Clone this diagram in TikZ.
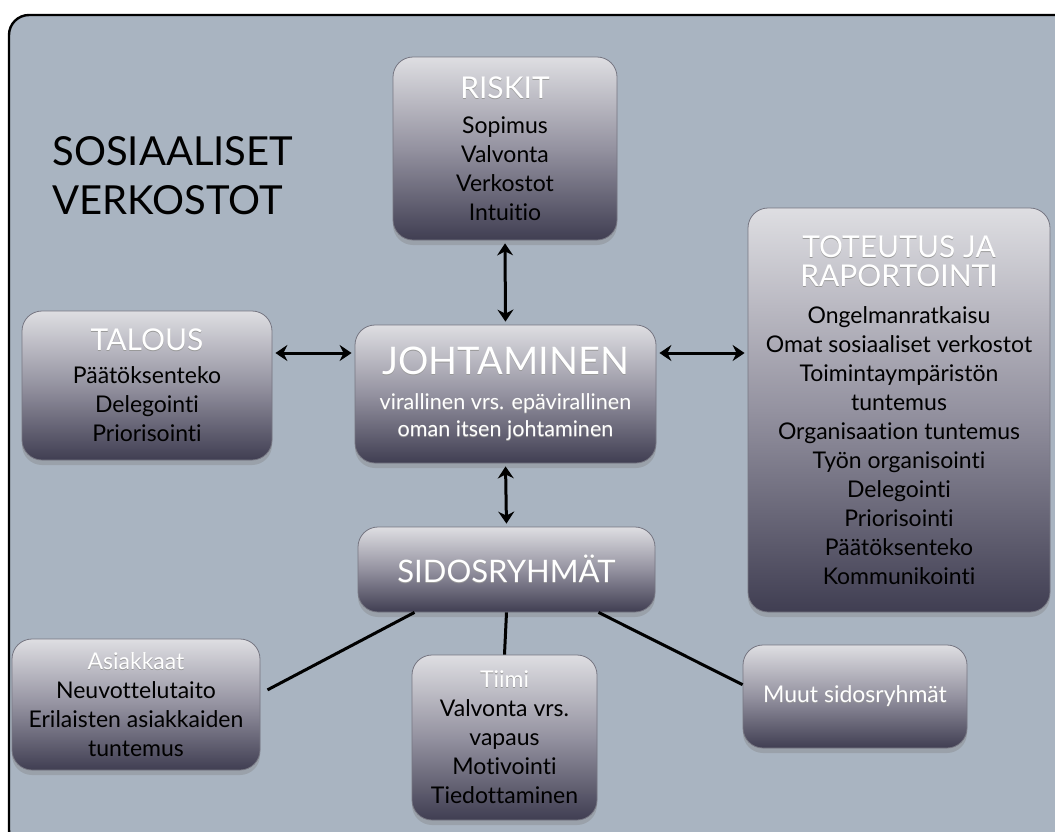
\documentclass[tikz,border=0pt]{standalone}
\usepackage{fontspec}
\setmainfont{Lato}[Ligatures={NoCommon}]
\usetikzlibrary{arrows.meta,shadows}

\definecolor{FrameColor}{RGB}{169,180,193}
\definecolor{BoxTop}{RGB}{222,222,226}
\definecolor{BoxMid}{RGB}{148,146,160}
\definecolor{BoxBottom}{RGB}{64,62,82}
\definecolor{BoxEdge}{RGB}{118,118,130}

\newcommand{\shadowed}[1]{\rlap{\raisebox{-0.5pt}{\color{black!40}#1}}{\color{white}#1}}
\newcommand{\boxtitle}[1]{{\fontsize{15}{15}\selectfont\shadowed{#1}}}

\tikzset{
	box/.style={draw=BoxEdge, line width=0.4pt, rounded corners=10pt,
		top color=BoxTop, bottom color=BoxBottom, middle color=BoxMid,
		inner sep=0pt, align=center, font=\fontsize{11.5}{14.5}\selectfont,
		drop shadow={opacity=0.35, shadow xshift=0pt, shadow yshift=-2.5pt}},
	boxsize/.style 2 args={minimum width=#1*0.5pt, minimum height=#2*0.5pt},
	link/.style={line width=1.5pt},
	twoway/.style={link, {Stealth[length=6pt,width=8pt,inset=2pt]}-{Stealth[length=6pt,width=8pt,inset=2pt]},
		shorten <=1.5pt, shorten >=1.5pt}
}

\begin{document}
\begin{tikzpicture}[x=0.5pt, y=-0.5pt]

	% Frame

	\useasboundingbox (0,0) rectangle (1055,831);
	\begin{scope}
		\clip (0,0) rectangle (1055,831);
		\filldraw [fill=FrameColor, line width=1.2pt, rounded corners=10pt] (9,15) rectangle (1090,850);
	\end{scope}

	% Heading

	\node (heading) [anchor=west, align=left, inner sep=0pt, font=\fontsize{20}{24.5}\selectfont] at (52,176) {SOSIAALISET\\VERKOSTOT};

	% Boxes

	\node (riskit) [box, boxsize={224}{183}] at (505,148.5) {\boxtitle{RISKIT}\\[3pt] Sopimus\\ Valvonta\\ Verkostot\\ Intuitio};
	\node (talous) [box, boxsize={250}{149}] at (147,385.5) {\boxtitle{TALOUS}\\[2pt] Päätöksenteko\\ Delegointi\\ Priorisointi};
	\node (johtaminen) [box, boxsize={301}{138}, font=\fontsize{10.8}{13.5}\selectfont] at (505.5,394) {{\fontsize{19}{19}\selectfont\shadowed{JOHTAMINEN}}\\[4pt] \shadowed{virallinen vrs. epävirallinen}\\ \shadowed{oman itsen johtaminen}};
	\node (toteutus) [box, boxsize={302}{404}] at (899,410) {\boxtitle{TOTEUTUS JA}\\ \boxtitle{RAPORTOINTI}\\[4pt] Ongelmanratkaisu\\ Omat sosiaaliset verkostot\\ Toimintaympäristön\\ tuntemus\\ Organisaation tuntemus\\ Työn organisointi\\ Delegointi\\ Priorisointi\\ Päätöksenteko\\ Kommunikointi};
	\node (sidos) [box, boxsize={297}{85}, font=\fontsize{15.5}{15.5}\selectfont] at (506.5,569.5) {\shadowed{SIDOSRYHMÄT}};
	\node (asiakkaat) [box, boxsize={248}{131}] at (136,704.5) {\shadowed{Asiakkaat}\\ Neuvottelutaito\\ Erilaisten asiakkaiden\\ tuntemus};
	\node (tiimi) [box, boxsize={185}{165}] at (504.5,737.5) {\shadowed{Tiimi}\\ Valvonta vrs.\\ vapaus\\ Motivointi\\ Tiedottaminen};
	\node (muut) [box, boxsize={224}{103}, font=\fontsize{11.5}{14}\selectfont] at (855,696.5) {\shadowed{Muut sidosryhmät}};

	% Connectors

	\coordinate (levelA) at (0,353);
	\draw [twoway] (riskit.south) -- (johtaminen.north);
	\draw [twoway] (talous.east |- levelA) -- (johtaminen.west |- levelA);
	\draw [twoway] (johtaminen.east |- levelA) -- (toteutus.west |- levelA);
	\draw [twoway] (johtaminen.south) -- (sidos.north);
	\draw [link, shorten >=4pt] (sidos.-155) -- (asiakkaat.5);
	\draw [link] (sidos.south) -- (tiimi.north);
	\draw [link] (sidos.-25) -- (muut.174);

\end{tikzpicture}
\end{document}
